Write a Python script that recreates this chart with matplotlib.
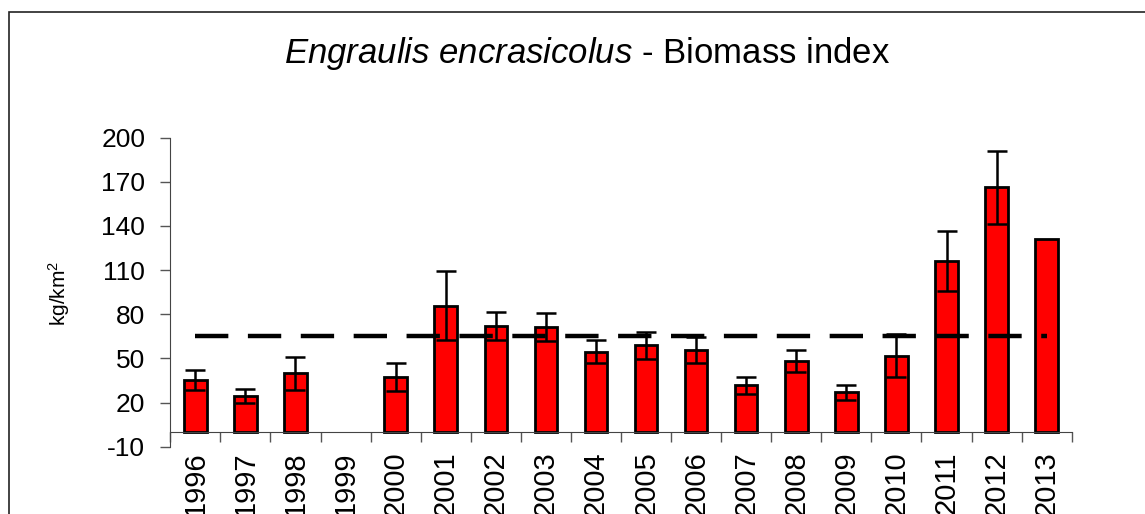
import numpy as np
import matplotlib
matplotlib.use("Agg")
import matplotlib.pyplot as plt
from matplotlib.patches import Rectangle

plt.rcParams['font.family'] = ['Liberation Sans', 'DejaVu Sans']
plt.rcParams['mathtext.fontset'] = 'custom'
plt.rcParams['mathtext.rm'] = 'Liberation Sans'
plt.rcParams['mathtext.it'] = 'Liberation Sans:italic'

# data
years = [str(y) for y in range(1996, 2014)]
biomass = [35.5, 24.5, 39.8, np.nan, 37.5, 85.9, 72.0, 71.5, 54.7, 58.8,
           55.8, 31.8, 48.4, 27.0, 51.8, 116.3, 166.4, 131.2]
errors = [6.8, 4.7, 11.1, np.nan, 9.7, 23.7, 9.6, 9.6, 8.1, 9.1,
          9.0, 5.9, 7.4, 5.2, 14.5, 20.2, 24.8, np.nan]
mean_level = [65.0] * len(years)
yticks = [-10, 20, 50, 80, 110, 140, 170, 200]

fig = plt.figure(figsize=(11.45, 5.14), dpi=100)
ax = fig.add_axes([0.1487, 0.1309, 0.7873, 0.6012])

# spine position first, it resets the tick settings
for s in ['top', 'right']:
    ax.spines[s].set_visible(False)
ax.spines['bottom'].set_position(('data', 0))
ax.spines['left'].set_color('#444444')
ax.spines['bottom'].set_color('#444444')

x = np.arange(len(years))
ax.bar(x, biomass, width=0.45, color='#FF0000', edgecolor='black',
       linewidth=2, zorder=2)
ax.errorbar(x, biomass, yerr=errors, fmt='none', ecolor='black',
            elinewidth=1.8, capsize=7, capthick=1.8, zorder=3)
ax.plot(x, mean_level, color='black', linewidth=3.2,
        linestyle=(0, (7.5, 4.4)), zorder=4)

ax.set_xlim(-0.5, len(years) - 0.5)
ax.set_ylim(-10, 200)
ax.set_yticks(yticks)
ax.set_yticklabels([str(v) for v in yticks], fontsize=19)
ax.set_xticks(x)
ax.set_xticklabels(years, rotation=90, fontsize=21, va='top')
ax.set_xticks(np.arange(len(years) + 1) - 0.5, minor=True)
ax.tick_params(axis='x', which='major', length=0, pad=14)
ax.tick_params(axis='x', which='minor', length=7, width=1, color='#555555')
ax.tick_params(axis='y', length=7, width=1, color='#555555', pad=11)

ax.set_ylabel('kg/km$^2$', fontsize=15)
ax.yaxis.set_label_coords(-0.109, 0.497)

fig.text(0.513, 0.878, r'$\mathit{Engraulis\ encrasicolus}$ - Biomass index',
         ha='center', va='baseline', fontsize=25)

# outer chart frame (cut off at right and bottom)
fig.patches.append(Rectangle((9 / 1145, -0.1), 1.2, (1 - 12 / 514) + 0.1,
                             transform=fig.transFigure, fill=False,
                             edgecolor='#222222', linewidth=1.2))

fig.savefig('out.png', dpi=100)
